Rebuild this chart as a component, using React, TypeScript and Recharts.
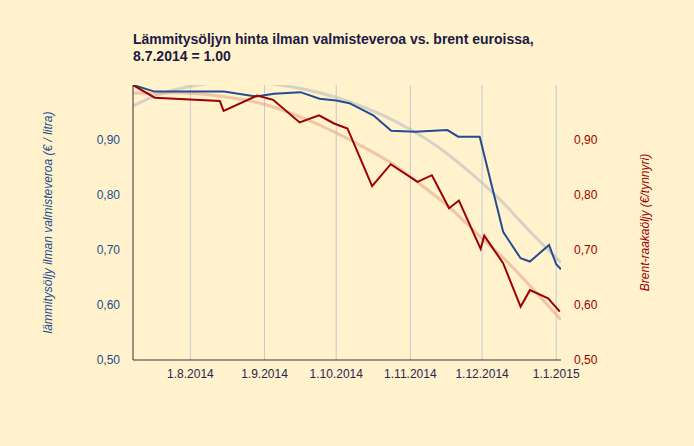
import { LineChart, Line, XAxis, YAxis, CartesianGrid } from 'recharts'

// days counted from 8.7.2014
const monthTicks = [24, 55, 85, 116, 146, 177]
const monthLabels = ['1.8.2014', '1.9.2014', '1.10.2014', '1.11.2014', '1.12.2014', '1.1.2015']
const valueTicks = [0.5, 0.6, 0.7, 0.8, 0.9]

const oilDays = [0, 9.1, 38, 51.5, 59, 70, 78, 85, 90.5, 100.5, 108, 118, 131.5, 136, 145, 154.8, 162.1, 166, 174, 177, 179]
const oilValues = [1.0, 0.988, 0.988, 0.979, 0.984, 0.987, 0.975, 0.972, 0.967, 0.945, 0.917, 0.915, 0.918, 0.906, 0.906, 0.733, 0.685, 0.679, 0.709, 0.674, 0.665]

const brentDays = [0, 9.1, 36.3, 37.9, 52, 58.6, 69.7, 77.8, 84.1, 89.7, 100, 107.8, 119, 125, 132.2, 136.3, 145.4, 146.9, 154.8, 162.1, 166, 173.6, 178.5]
const brentValues = [1.0, 0.977, 0.971, 0.953, 0.981, 0.973, 0.932, 0.945, 0.93, 0.921, 0.816, 0.856, 0.824, 0.836, 0.776, 0.79, 0.702, 0.726, 0.676, 0.597, 0.627, 0.612, 0.588]

const oilTrendDays = [0, 8, 22, 36, 50, 63, 78, 91, 104, 116, 128, 138, 146, 155, 162, 170, 179]
const oilTrendValues = [0.962, 0.978, 0.996, 1.004, 1.005, 0.999, 0.986, 0.969, 0.946, 0.919, 0.886, 0.852, 0.822, 0.785, 0.752, 0.716, 0.677]

const brentTrendDays = [0, 18, 36, 54, 70, 84, 96, 108, 120, 133, 145, 155, 166, 179]
const brentTrendValues = [0.985, 0.986, 0.98, 0.966, 0.942, 0.915, 0.888, 0.858, 0.82, 0.775, 0.725, 0.685, 0.635, 0.573]

const toRows = (days: number[], values: number[]) => days.map((day, i) => ({ day, v: values[i] }))

const oilData = toRows(oilDays, oilValues)
const brentData = toRows(brentDays, brentValues)
const oilTrend = toRows(oilTrendDays, oilTrendValues)
const brentTrend = toRows(brentTrendDays, brentTrendValues)

const BLUE = '#234d8e'
const RED = '#9c0000'
const FONT = '"Liberation Sans", Arial, sans-serif'

const fmt = (v: number) => v.toFixed(2).replace('.', ',')
const monthLabel = (d: number) => monthLabels[monthTicks.indexOf(d)] ?? ''

const axisTitle = (text: string, x: number, fill: string) => (props: any) => {
  const vb = props.viewBox
  const cy = vb.y + vb.height / 2
  return (
    <text
      x={x}
      y={cy}
      transform={`rotate(-90 ${x} ${cy})`}
      textAnchor="middle"
      dominantBaseline="central"
      fill={fill}
      fontStyle="italic"
      fontSize={12}
      fontFamily={FONT}
    >
      {text}
    </text>
  )
}

export default function App() {
  return (
    <div style={{ position: 'relative', width: 694, height: 446, background: '#fff2cc', fontFamily: FONT }}>
      <style>{'body{margin:0}'}</style>
      <div
        style={{
          position: 'absolute',
          left: 133,
          top: 31,
          fontSize: 14,
          lineHeight: '17px',
          fontWeight: 'bold',
          color: '#1d1a45',
        }}
      >
        Lämmitysöljyn hinta ilman valmisteveroa vs. brent euroissa,
        <br />
        8.7.2014 = 1.00
      </div>
      <LineChart width={694} height={446} margin={{ top: 85, right: 0, bottom: 56, left: 0 }}>
        <CartesianGrid stroke="#c6c9d8" horizontalValues={valueTicks} verticalValues={monthTicks} />
        <XAxis
          dataKey="day"
          type="number"
          domain={[0, 179]}
          ticks={monthTicks}
          tickFormatter={monthLabel}
          tickLine={false}
          axisLine={{ stroke: '#333' }}
          tick={{ fill: '#2b2650', fontSize: 12, fontFamily: FONT }}
          tickMargin={3}
          height={30}
          allowDataOverflow
        />
        <YAxis
          yAxisId="left"
          width={133}
          domain={[0.5, 1]}
          ticks={valueTicks}
          tickFormatter={fmt}
          tickLine={false}
          axisLine={{ stroke: '#333' }}
          tick={{ fill: BLUE, fontSize: 12, fontFamily: FONT }}
          tickMargin={7}
          allowDataOverflow
          label={{ content: axisTitle('lämmitysöljy ilman valmisteveroa (€ / litra)', 48, BLUE) }}
        />
        <YAxis
          yAxisId="right"
          orientation="right"
          width={133}
          domain={[0.5, 1]}
          ticks={valueTicks}
          tickFormatter={fmt}
          tickLine={false}
          axisLine={false}
          tick={{ fill: RED, fontSize: 12, fontFamily: FONT }}
          tickMargin={7}
          allowDataOverflow
          label={{ content: axisTitle('Brent-raakaöljy (€/tynnyri)', 645, RED) }}
        />
        <Line
          yAxisId="left"
          data={oilTrend}
          dataKey="v"
          type="monotone"
          stroke="#bdbdbd"
          strokeOpacity={0.6}
          strokeWidth={3}
          dot={false}
          isAnimationActive={false}
        />
        <Line
          yAxisId="right"
          data={brentTrend}
          dataKey="v"
          type="monotone"
          stroke="#e4a88e"
          strokeOpacity={0.6}
          strokeWidth={3}
          dot={false}
          isAnimationActive={false}
        />
        <Line
          yAxisId="left"
          data={oilData}
          dataKey="v"
          type="linear"
          stroke={BLUE}
          strokeWidth={2}
          dot={false}
          isAnimationActive={false}
        />
        <Line
          yAxisId="right"
          data={brentData}
          dataKey="v"
          type="linear"
          stroke={RED}
          strokeWidth={2}
          dot={false}
          isAnimationActive={false}
        />
      </LineChart>
    </div>
  )
}
